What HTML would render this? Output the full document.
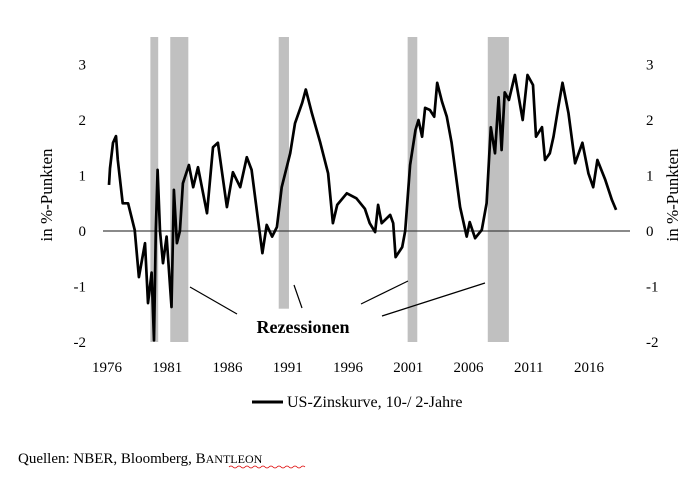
<!DOCTYPE html>
<html><head><meta charset="utf-8"><style>
body{margin:0;background:#fff;}
svg{display:block;font-family:"Liberation Serif",serif;}
</style></head><body>
<svg width="700" height="479">
<g id="bars"></g>
<line x1="103" y1="231" x2="630" y2="231" stroke="#444" stroke-width="1.3"/>
<g id="ticks" font-size="15" fill="#000"></g>
<path id="series" fill="none" stroke="#000" stroke-width="2.7" stroke-linejoin="round"/>
<g stroke="#000" stroke-width="1.2">
<line x1="190" y1="287" x2="237" y2="314"/>
<line x1="294" y1="285" x2="302" y2="308"/>
<line x1="361" y1="304" x2="408" y2="281"/>
<line x1="382" y1="316" x2="485" y2="283"/>
</g>
<text x="303" y="333" font-size="18" font-weight="bold" text-anchor="middle">Rezessionen</text>
<text transform="translate(52,195) rotate(-90)" font-size="17" text-anchor="middle">in %-Punkten</text>
<text transform="translate(678,195) rotate(-90)" font-size="17" text-anchor="middle">in %-Punkten</text>
<line x1="252" y1="402" x2="283" y2="402" stroke="#000" stroke-width="3"/>
<text x="287" y="407" font-size="16">US-Zinskurve, 10-/ 2-Jahre</text>
<text x="18" y="463" font-size="15">Quellen: NBER, Bloomberg, B<tspan font-size="12">ANTLEON</tspan></text>
<path d="M229 467 q2 -2 4 0 t4 0 t4 0 t4 0 t4 0 t4 0 t4 0 t4 0 t4 0 t4 0 t4 0 t4 0 t4 0 t4 0 t4 0 t4 0 t4 0 t4 0 t4 0" fill="none" stroke="#d00" stroke-width="0.8"/>
</svg>
<script>
const years=[1976.17,1976.25,1976.5,1976.75,1976.9,1977.3,1977.75,1978.3,1978.65,1979.15,1979.4,1979.7,1979.9,1980.05,1980.2,1980.4,1980.65,1980.95,1981.35,1981.55,1981.8,1982.05,1982.3,1982.8,1983.15,1983.55,1984.3,1984.8,1985.2,1985.95,1986.45,1987.05,1987.6,1988.0,1988.5,1988.9,1989.25,1989.7,1990.1,1990.5,1991.2,1991.6,1992.2,1992.5,1993.0,1993.7,1994.35,1994.75,1995.1,1995.9,1996.7,1997.4,1997.8,1998.25,1998.5,1998.8,1999.5,1999.75,1999.95,2000.5,2000.75,2001.15,2001.6,2001.85,2002.15,2002.4,2002.8,2003.15,2003.4,2003.8,2004.2,2004.6,2005.3,2005.85,2006.1,2006.55,2007.1,2007.5,2007.85,2008.2,2008.5,2008.75,2009.0,2009.35,2009.85,2010.5,2010.9,2011.35,2011.6,2012.1,2012.35,2012.75,2013.05,2013.45,2013.8,2014.3,2014.85,2015.45,2015.95,2016.35,2016.7,2017.35,2017.9,2018.25];
const values=[0.83,1.13,1.59,1.71,1.28,0.5,0.5,0.02,-0.83,-0.22,-1.3,-0.75,-1.97,0,1.1,0,-0.58,-0.1,-1.37,0.74,-0.22,0,0.86,1.19,0.79,1.15,0.32,1.51,1.59,0.43,1.06,0.79,1.33,1.1,0.26,-0.4,0.11,-0.1,0.07,0.79,1.4,1.94,2.31,2.55,2.12,1.59,1.04,0.14,0.47,0.68,0.59,0.4,0.14,-0.02,0.47,0.14,0.29,0.14,-0.47,-0.29,0,1.19,1.82,2.0,1.7,2.22,2.18,2.06,2.67,2.33,2.06,1.59,0.43,-0.1,0.16,-0.13,0.02,0.5,1.87,1.4,2.41,1.46,2.5,2.36,2.81,2.0,2.81,2.63,1.7,1.87,1.28,1.4,1.7,2.23,2.67,2.12,1.22,1.59,1.04,0.79,1.28,0.92,0.56,0.38];
const recStart=[1979.6,1981.25,1990.25,2000.95,2007.6];
const recEnd=[1980.25,1982.75,1991.1,2001.75,2009.35];
const recBottom=[-2,-2,-1.4,-2,-2];
const xTicks=[1976,1981,1986,1991,1996,2001,2006,2011,2016];
const yTicks=[-2,-1,0,1,2,3];
const NS="http://www.w3.org/2000/svg";
const X=y=>107+(y-1976)*12.05;
const Y=v=>231-v*55.5;
const bars=document.getElementById('bars');
recStart.forEach((s,i)=>{
 const r=document.createElementNS(NS,'rect');
 r.setAttribute('x',X(s));r.setAttribute('width',X(recEnd[i])-X(s));
 r.setAttribute('y',37);r.setAttribute('height',Y(recBottom[i])-37);
 r.setAttribute('fill','#c0c0c0');
 
 
 bars.appendChild(r);
});
const tk=document.getElementById('ticks');
xTicks.forEach(t=>{
 const e=document.createElementNS(NS,'text');
 e.setAttribute('x',X(t));e.setAttribute('y',372);e.setAttribute('text-anchor','middle');
 e.textContent=t;
 
 
 tk.appendChild(e);
});
yTicks.forEach(t=>{
 [[86,'end'],[646,'start']].forEach(([x,a])=>{
  const e=document.createElementNS(NS,'text');
  e.setAttribute('x',x);e.setAttribute('y',Y(t)+5);e.setAttribute('text-anchor',a);
  e.textContent=t;
  
  
  tk.appendChild(e);
 });
});
document.getElementById('series').setAttribute('d',years.map((y,i)=>(i?'L':'M')+X(y).toFixed(1)+' '+Y(values[i]).toFixed(1)).join(' '));
</script>
</body></html>
